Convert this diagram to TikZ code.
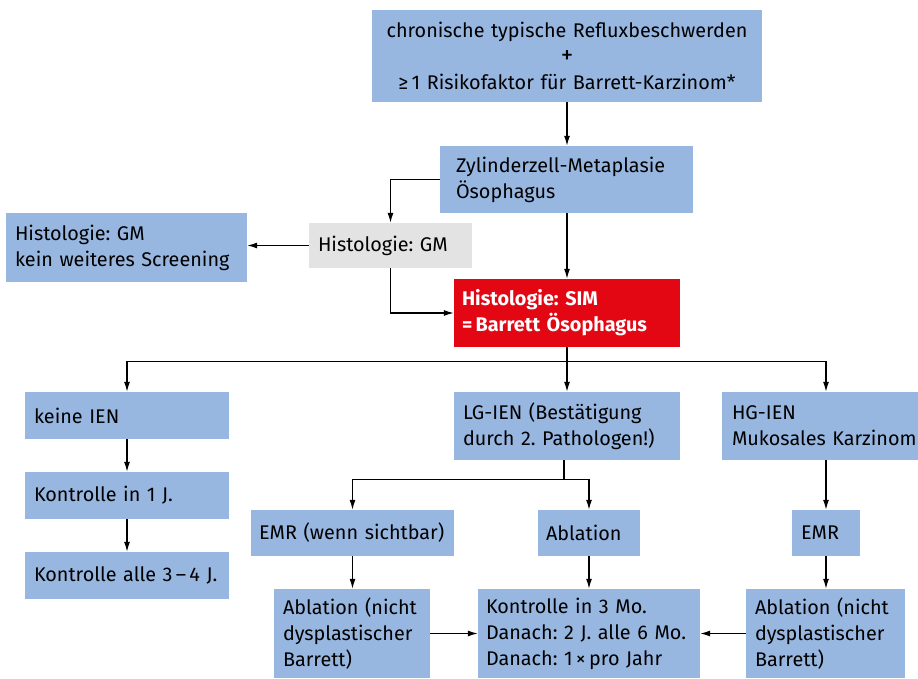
\documentclass[tikz,border=0pt]{standalone}
\usepackage{fontspec}
\setmainfont{Fira Sans}
\usetikzlibrary{arrows.meta}
\definecolor{boxblue}{RGB}{151,183,225}
\definecolor{boxred}{RGB}{227,6,19}
\definecolor{boxgrey}{RGB}{227,227,227}
\frenchspacing
\tikzset{
  bx/.style={fill=boxblue, draw=none, inner ysep=0pt, align=left, font=\fontsize{19.8}{26}\selectfont, text=black},
  bxw/.style n args={3}{minimum width=#1pt, minimum height=#2pt, text width={#1pt-2*#3pt}, inner xsep=#3pt},
  arr/.style={draw=black, line width=1.2pt, -{Latex[length=10pt,width=6pt]}},
  ln/.style={draw=black, line width=1.2pt},
}
\begin{document}
\begin{tikzpicture}[x=1pt,y=-1pt]
\useasboundingbox (0,0) rectangle (918,679);
\clip (0,0) rectangle (918,679);
\node[bx, bxw={390}{92}{4}, align=center] (top) at (567,56) {chronische typische Refluxbeschwerden\\{\fontsize{25}{26}\selectfont +}\\≥\,1 Risikofaktor für Barrett-Karzinom*};
\node[bx, bxw={253}{67}{16}] (zyl) at (566.5,179.5) {Zylinderzell-Metaplasie\\Ösophagus};
\node[bx, fill=boxgrey, bxw={163}{45}{9}] (gm) at (390.5,245.5) {Histologie: GM};
\node[bx, bxw={241}{69}{9}] (left) at (126.5,247.5) {Histologie: GM\\kein weiteres Screening};
\node[bx, fill=boxred, text=white, font=\fontsize{19.8}{26}\selectfont\bfseries, bxw={226}{68}{8}] (sim) at (567,313) {Histologie: SIM\\=\,Barrett Ösophagus};
\node[bx, bxw={204}{47}{9}] (keine) at (127,415.5) {keine IEN};
\node[bx, bxw={204}{47}{9}] (k1) at (127,495.5) {Kontrolle in 1 J.};
\node[bx, bxw={204}{47}{9}] (k34) at (127,575.5) {Kontrolle alle 3\,–\,4 J.};
\node[bx, bxw={226}{68}{9}] (lg) at (567,426) {LG-IEN (Bestätigung\\durch 2. Pathologen!)};
\node[bx, bxw={208}{68}{10}] (hg) at (826,426) {HG-IEN\\Mukosales Karzinom};
\node[bx, bxw={203}{46}{8}] (emrL) at (352.5,533) {EMR (wenn sichtbar)};
\node[bx, bxw={102}{46}{8}] (abl) at (589,533) {Ablation};
\node[bx, bxw={68}{46}{9}] (emrR) at (826,533) {EMR};
\node[bx, bxw={156}{89}{9}] (ablL) at (352,633.5) {Ablation (nicht\\dysplastischer\\Barrett)};
\node[bx, bxw={222}{89}{8}] (kon) at (589,633.5) {Kontrolle in 3 Mo.\\Danach: 2 J. alle 6 Mo.\\Danach: 1\,×\,pro Jahr};
\node[bx, bxw={159}{89}{9}] (ablR) at (825.5,633.5) {Ablation (nicht\\dysplastischer\\Barrett)};
% connectors
\draw[arr] (top.south) -- (top.south |- zyl.north);
\draw[arr] (zyl.west) -| (gm.north);
\draw[arr] (gm.south) |- (sim.west);
\draw[arr] (gm.west) -- (gm.west -| left.east);
\draw[arr] (zyl.south -| top.south) -- (sim.north -| top.south);
\draw[ln] (sim.south) -- ++(0,14) coordinate (brc);
\draw[arr] (brc) -| (keine.north);
\draw[arr] (brc) -| (hg.north);
\draw[arr] (brc) -- (lg.north);
\draw[arr] (keine.south) -- (k1.north);
\draw[arr] (k1.south) -- (k34.north);
\coordinate (lgs) at ([xshift=-3pt]lg.south);
\draw[ln] (lgs) -- ++(0,19) coordinate (lgb);
\draw[arr] (lgb) -| (emrL.north);
\draw[arr] (lgb) -| (abl.north);
\draw[arr] (emrL.south) -- (emrL.south |- ablL.north);
\draw[arr] (abl.south) -- (kon.north);
\draw[arr] (hg.south) -- (emrR.north);
\draw[arr] (emrR.south) -- (emrR.south |- ablR.north);
\draw[arr] (ablL.east) -- (kon.west);
\draw[arr] (ablR.west) -- (kon.east);
\end{tikzpicture}
\end{document}
